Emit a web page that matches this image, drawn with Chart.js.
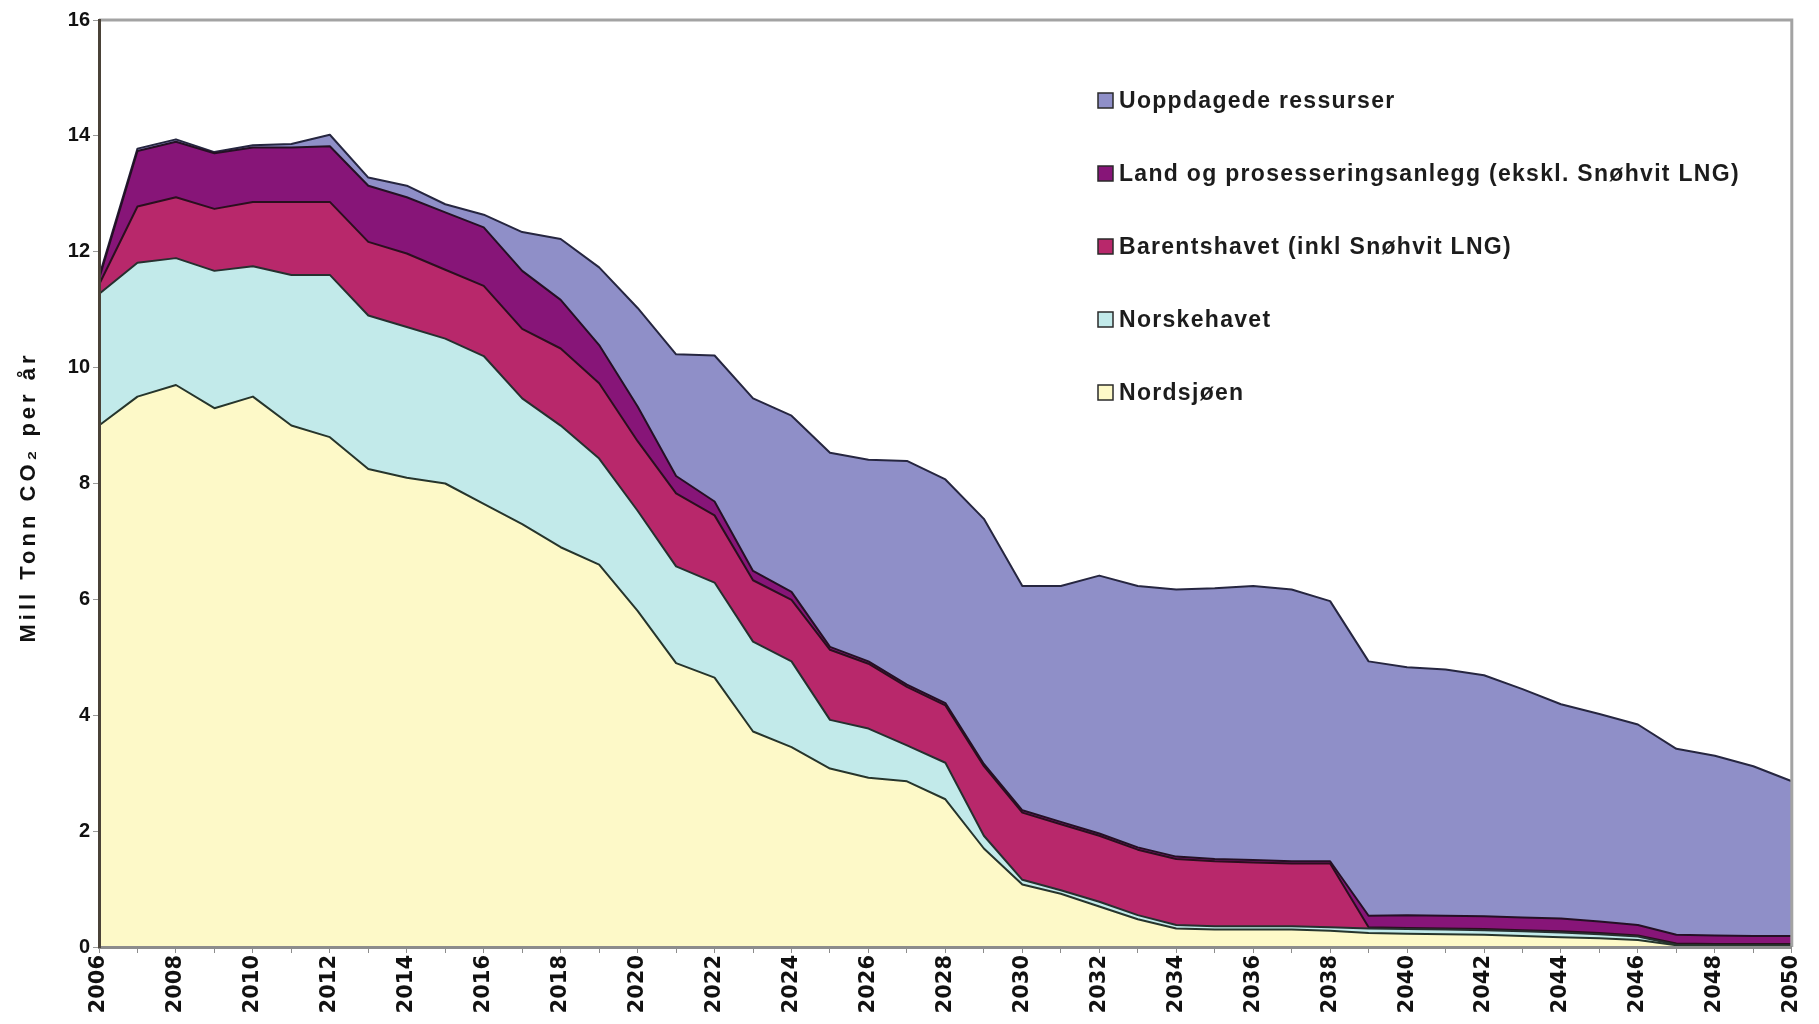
<!DOCTYPE html>
<html>
<head>
<meta charset="utf-8">
<script src="https://cdn.jsdelivr.net/npm/chart.js@4/dist/chart.umd.min.js"></script>
<style>
  html, body { margin: 0; padding: 0; background: #fff; }
  #wrap { width: 1819px; height: 1024px; }
</style>
</head>
<body>
<div id="wrap"><canvas id="c" width="1819" height="1024"></canvas></div>
<script>
// år på x-aksen
const years = [2006, 2007, 2008, 2009, 2010, 2011, 2012, 2013, 2014, 2015,
  2016, 2017, 2018, 2019, 2020, 2021, 2022, 2023, 2024, 2025,
  2026, 2027, 2028, 2029, 2030, 2031, 2032, 2033, 2034, 2035,
  2036, 2037, 2038, 2039, 2040, 2041, 2042, 2043, 2044, 2045,
  2046, 2047, 2048, 2049, 2050];

// mill tonn CO2 per år, lest av figuren (hver serie for seg, stables)
const nordsjoen = [9.0, 9.5, 9.7, 9.3, 9.5, 9.0, 8.8, 8.25, 8.1, 8.0,
  7.65, 7.3, 6.9, 6.6, 5.8, 4.9, 4.65, 3.72, 3.45, 3.08,
  2.92, 2.86, 2.55, 1.7, 1.08, 0.92, 0.7, 0.48, 0.32, 0.3,
  0.3, 0.3, 0.28, 0.24, 0.23, 0.22, 0.21, 0.19, 0.17, 0.15,
  0.12, 0.03, 0.02, 0.02, 0.02];
const norskehavet = [2.27, 2.31, 2.19, 2.37, 2.25, 2.6, 2.8, 2.65, 2.6, 2.5,
  2.55, 2.17, 2.1, 1.83, 1.73, 1.67, 1.64, 1.55, 1.48, 0.84,
  0.85, 0.62, 0.63, 0.22, 0.08, 0.06, 0.08, 0.07, 0.06, 0.06,
  0.06, 0.06, 0.06, 0.08, 0.08, 0.08, 0.08, 0.08, 0.08, 0.07,
  0.06, 0.01, 0.01, 0.01, 0.01];
const barentshavet = [0.16, 0.97, 1.05, 1.07, 1.11, 1.26, 1.26, 1.27, 1.27, 1.19,
  1.21, 1.2, 1.33, 1.3, 1.2, 1.26, 1.16, 1.06, 1.06, 1.21,
  1.12, 1.01, 0.99, 1.2, 1.16, 1.14, 1.14, 1.13, 1.14, 1.12,
  1.1, 1.08, 1.1, 0.02, 0.02, 0.02, 0.02, 0.02, 0.02, 0.02,
  0.02, 0.02, 0.02, 0.02, 0.02];
const landanlegg = [0.1, 0.96, 0.96, 0.96, 0.94, 0.94, 0.96, 0.97, 0.97, 0.99,
  1.01, 1.0, 0.84, 0.66, 0.6, 0.3, 0.24, 0.16, 0.14, 0.05,
  0.04, 0.04, 0.04, 0.04, 0.04, 0.04, 0.04, 0.04, 0.04, 0.04,
  0.04, 0.04, 0.04, 0.2, 0.22, 0.22, 0.22, 0.22, 0.22, 0.2,
  0.18, 0.15, 0.15, 0.14, 0.14];
const uoppdagede = [0.04, 0.04, 0.04, 0.02, 0.04, 0.06, 0.2, 0.14, 0.2, 0.14,
  0.22, 0.67, 1.05, 1.34, 1.7, 2.1, 2.52, 2.98, 3.04, 3.35,
  3.48, 3.86, 3.86, 4.23, 3.87, 4.07, 4.45, 4.51, 4.61, 4.67,
  4.73, 4.69, 4.49, 4.39, 4.28, 4.25, 4.16, 3.94, 3.7, 3.58,
  3.46, 3.21, 3.1, 2.93, 2.67];

const seriesNames = ['Nordsjøen', 'Norskehavet', 'Barentshavet (inkl Snøhvit LNG)',
  'Land og prosesseringsanlegg (ekskl. Snøhvit LNG)', 'Uoppdagede ressurser'];
const fillColors = ['#fdf9c8', '#c2eaea', '#b8286b', '#871578', '#8f8fc8'];
const lineColors = ['#26352c', '#26302f', '#2a0f1e', '#241024', '#262640'];
const yTitle = 'Mill Tonn CO₂ per år';

const FONT = '"Liberation Sans", Arial, sans-serif';
const WIDE = '"DejaVu Sans", Verdana, sans-serif';

// legende inne i plottet + y-aksetittel (med litt sperret skrift)
const boxLegend = {
  id: 'boxLegend',
  afterDraw(chart) {
    const ctx = chart.ctx;
    const items = chart.data.datasets.slice().reverse();
    ctx.save();
    ctx.font = 'bold 23px ' + FONT;
    ctx.letterSpacing = '1.3px';
    ctx.textBaseline = 'middle';
    items.forEach((ds, i) => {
      const y = 101 + i * 73;
      ctx.fillStyle = ds.backgroundColor;
      ctx.fillRect(1098, y - 8, 15, 15);
      ctx.strokeStyle = '#2a2a2a';
      ctx.lineWidth = 1.5;
      ctx.strokeRect(1098, y - 8, 15, 15);
      ctx.fillStyle = '#1c1c1c';
      ctx.fillText(ds.label, 1119, y + 1);
    });
    ctx.restore();

    ctx.save();
    ctx.translate(29, 497);
    ctx.rotate(-Math.PI / 2);
    ctx.font = 'bold 22px ' + FONT;
    ctx.letterSpacing = '4px';
    ctx.textAlign = 'center';
    ctx.textBaseline = 'middle';
    ctx.fillStyle = '#111';
    ctx.fillText(yTitle, 0, 0);
    ctx.restore();
  }
};

// grå ramme topp og høyre
const frame = {
  id: 'frame',
  afterDatasetsDraw(chart) {
    const a = chart.chartArea;
    const ctx = chart.ctx;
    ctx.save();
    ctx.strokeStyle = '#a3a3a3';
    ctx.lineWidth = 3;
    ctx.beginPath();
    ctx.moveTo(a.left, a.top);
    ctx.lineTo(a.right, a.top);
    ctx.lineTo(a.right, a.bottom);
    ctx.stroke();
    ctx.restore();
  }
};

const seriesData = [nordsjoen, norskehavet, barentshavet, landanlegg, uoppdagede];
const datasets = seriesData.map((d, i) => ({
  label: seriesNames[i],
  data: d,
  backgroundColor: fillColors[i],
  borderColor: lineColors[i],
  borderWidth: 2,
  pointRadius: 0,
  tension: 0,
  fill: i === 0 ? 'origin' : '-1'
}));

new Chart(document.getElementById('c'), {
  type: 'line',
  data: { labels: years, datasets: datasets },
  options: {
    responsive: false,
    animation: false,
    devicePixelRatio: 1,
    layout: { padding: { top: 20, right: 20, left: 0, bottom: 0 } },
    plugins: {
      legend: { display: false },
      tooltip: { enabled: false }
    },
    elements: { line: { borderJoinStyle: 'round' } },
    scales: {
      x: {
        type: 'category',
        offset: false,
        grid: {
          display: true,
          drawOnChartArea: false,
          drawTicks: true,
          tickLength: 6,
          color: '#8c8c8c'
        },
        border: { display: true, color: '#8c8c8c', width: 3, z: 1 },
        ticks: {
          autoSkip: false,
          maxRotation: 90,
          minRotation: 90,
          padding: 2,
          color: '#111',
          font: { family: WIDE, size: 21, weight: 'bold' },
          callback: function (v, i) {
            const y = years[i];
            return y % 2 === 0 ? String(y) : '';
          }
        },
        afterFit(scale) { scale.height = 77; }
      },
      y: {
        stacked: true,
        min: 0,
        max: 16,
        grid: {
          display: true,
          drawOnChartArea: false,
          drawTicks: true,
          tickLength: 6,
          color: '#9a9a9a'
        },
        border: { display: true, color: '#4a4238', width: 3, z: 1 },
        ticks: {
          stepSize: 2,
          padding: 3,
          color: '#111',
          font: { family: FONT, size: 20, weight: 'bold' }
        },
        title: { display: false },
        afterFit(scale) { scale.width = 99; }
      }
    }
  },
  plugins: [frame, boxLegend]
});
</script>
</body>
</html>
